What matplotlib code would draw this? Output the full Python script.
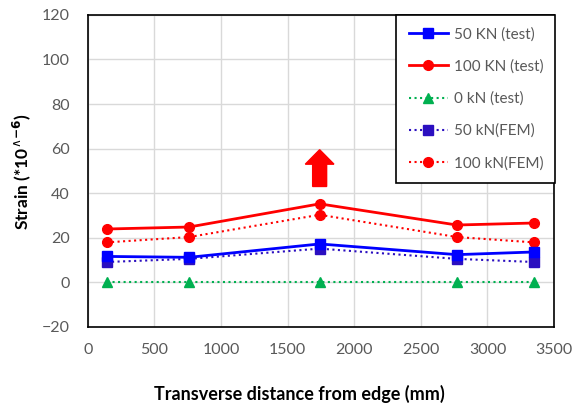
import matplotlib.pyplot as plt
from matplotlib.patches import FancyArrow
import numpy as np

my_dpi = 100
plt.rcParams['font.family'] = ['Lato', 'DejaVu Sans']

# positions along the deck (mm)
x_pos = [140, 760, 1740, 2770, 3350]

kn50_test = [11.6, 11.2, 17.2, 12.4, 13.6]
kn100_test = [23.9, 24.8, 35.2, 25.7, 26.6]
kn0_test = [0, 0, 0, 0, 0]
kn50_fem = [9.1, 10.5, 15.1, 10.5, 9.1]
kn100_fem = [17.9, 20.3, 30.3, 20.3, 17.9]

labels = ['50 KN (test)', '100 KN (test)', '0 kN (test)', '50 kN(FEM)', '100 kN(FEM)']

fig = plt.figure(figsize=(582/my_dpi, 403/my_dpi), dpi=my_dpi)
ax = fig.add_axes([0.151, 0.189, 0.801, 0.774])

ax.plot(x_pos, kn50_test, color='#0000FF', lw=2, marker='s', ms=7, label=labels[0], zorder=4)
ax.plot(x_pos, kn100_test, color='#FF0000', lw=2, marker='o', ms=7, label=labels[1], zorder=4)
ax.plot(x_pos, kn0_test, color='#00B050', lw=1.5, ls=':', marker='^', ms=7, label=labels[2], zorder=3)
ax.plot(x_pos, kn50_fem, color='#2B0FC0', lw=1.5, ls=':', marker='s', ms=7, label=labels[3], zorder=3)
ax.plot(x_pos, kn100_fem, color='#FF0000', lw=1.5, ls=':', marker='o', ms=7, label=labels[4], zorder=3)

# red up arrow above the peak
ax.add_patch(FancyArrow(1740, 43, 0, 16.5, width=105, head_width=215, head_length=6.5,
                        length_includes_head=True, color='#FF0000', zorder=5))

ax.set_xlim(0, 3500)
ax.set_ylim(-20, 120)
ax.set_xticks(np.arange(0, 3501, 500))
ax.set_yticks(np.arange(-20, 121, 20))
ax.grid(True, color='#D9D9D9', lw=1)
ax.set_axisbelow(True)
for s in ax.spines.values():
    s.set_color('black')
    s.set_linewidth(1.2)
ax.tick_params(length=0, labelsize=11.5, labelcolor='#595959')
ax.tick_params(axis='x', pad=12)
ax.tick_params(axis='y', pad=13)

ax.set_xlabel('Transverse distance from edge (mm)', fontsize=13, fontweight='bold')
ax.set_ylabel(r'Strain (*10$^{\wedge\mathbf{-6}}$)', fontsize=12.5, fontweight='bold')
ax.xaxis.set_label_coords(0.453, -0.185)
ax.yaxis.set_label_coords(-0.117, 0.498)

leg = ax.legend(loc='upper right', bbox_to_anchor=(1.003, 1.0), borderaxespad=0,
                fancybox=False, edgecolor='black', fontsize=11, handlelength=2.6,
                handletextpad=0.35, labelspacing=1.17, borderpad=0.8, framealpha=1)
leg.get_frame().set_linewidth(1.2)
for t in leg.get_texts():
    t.set_color('#595959')

plt.savefig('out.png', dpi=my_dpi)
